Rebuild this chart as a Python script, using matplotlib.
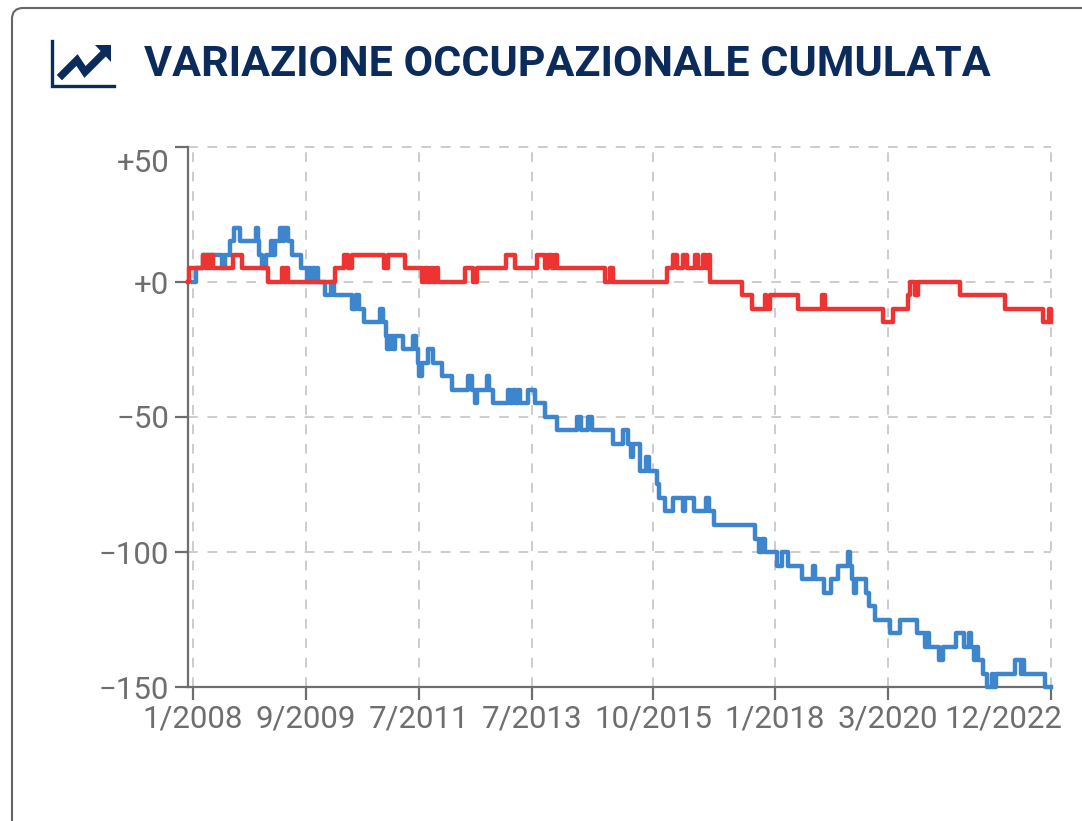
# Cumulative employment change, blue and red step lines on a card with title and icon
import matplotlib
matplotlib.use("Agg")
import matplotlib.pyplot as plt
from matplotlib.patches import FancyBboxPatch, Polygon
from matplotlib.transforms import ScaledTranslation

plt.rcParams["font.family"] = ["Roboto", "DejaVu Sans"]

# Title and axis labels
title = "VARIAZIONE OCCUPAZIONALE CUMULATA"
tick_pos = [0, 113, 226, 339, 460, 582, 695, 858]
tick_labels = ["1/2008", "9/2009", "7/2011", "7/2013", "10/2015", "1/2018", "3/2020", "12/2022"]
y_ticks = [50, 0, -50, -100, -150]
y_labels = ["+50", "+0", "\u221250", "\u2212100", "\u2212150"]

# Series, each point is where the step changes
blue_x = [0, 3, 10, 29, 32, 37, 41, 47, 63, 65, 66, 69, 73, 78, 80, 82, 87, 90, 91, 95,
          99, 108, 114, 116, 118, 120, 122, 124, 125, 132, 138, 141, 159, 163, 166, 171,
          187, 190, 193, 194, 197, 200, 202, 210, 220, 223, 225, 226, 229, 235, 240, 249,
          259, 275, 279, 282, 284, 294, 296, 300, 315, 317, 320, 322, 325, 327, 335, 342,
          352, 364, 384, 388, 395, 399, 420, 430, 435, 438, 440, 447, 453, 456, 464, 466,
          472, 480, 490, 492, 501, 513, 516, 521, 562, 566, 569, 572, 584, 589, 595, 609,
          620, 622, 631, 638, 645, 655, 657, 659, 661, 663, 673, 676, 682, 697, 707, 724,
          732, 734, 736, 746, 750, 763, 771, 776, 778, 781, 783, 785, 790, 794, 799, 800,
          803, 822, 828, 829, 831, 852, 858]
blue_y = [0, 5, 10, 5, 10, 15, 20, 15, 20, 15, 10, 5, 10, 15, 10, 15, 20, 15, 20, 15,
          10, 5, 0, 5, 0, 5, 0, 5, 0, -5, 0, -5, -10, -5, -10, -15,
          -10, -15, -20, -25, -20, -25, -20, -25, -20, -25, -30, -35, -30, -25, -30, -35,
          -40, -35, -40, -45, -40, -35, -40, -45, -40, -45, -40, -45, -40, -45, -40, -45,
          -50, -55, -50, -55, -50, -55, -60, -55, -60, -65, -60, -70, -65, -70, -75, -80,
          -85, -80, -85, -80, -85, -80, -85, -90, -95, -100, -95, -100, -105, -100, -105, -110,
          -105, -110, -115, -110, -105, -100, -105, -110, -115, -110, -115, -120, -125, -130, -125, -130,
          -135, -130, -135, -140, -135, -130, -135, -130, -135, -140, -135, -140, -145, -150, -145, -150,
          -145, -140, -145, -140, -145, -150, -150]

red_x = [-5, -4, 10, 12, 14, 16, 18, 20, 40, 49, 75, 89, 91, 93, 95, 97, 142, 151, 155,
         159, 191, 195, 212, 229, 232, 235, 238, 240, 243, 245, 272, 280, 284, 313, 322,
         344, 352, 355, 359, 362, 364, 412, 417, 420, 474, 480, 484, 490, 494, 502, 505,
         510, 513, 515, 517, 549, 559, 572, 573, 577, 580, 605, 629, 632, 690, 700, 715,
         717, 722, 725, 767, 812, 850, 856, 858]
red_y = [0, 5, 10, 5, 10, 5, 10, 5, 10, 5, 0, 5, 0, 5, 0, 0, 5, 10, 5,
         10, 5, 10, 5, 0, 5, 0, 5, 0, 5, 0, 5, 0, 5, 10, 5,
         10, 5, 10, 5, 10, 5, 0, 5, 0, 5, 10, 5, 10, 5, 10, 5,
         10, 5, 10, 0, -5, -10, -5, -10, -5, -5, -10, -5, -10, -15, -10, -5,
         0, -5, 0, -5, -10, -15, -10, -15]

W, H = 1082, 821
GREY = "#6e6e6e"
NAVY = "#0a2b5c"

fig = plt.figure(figsize=(W / 100, H / 100), dpi=100)

# Card, icon and title live on a pixel-sized layer behind the chart
bg = fig.add_axes([0, 0, 1, 1])
bg.set_xlim(0, W)
bg.set_ylim(H, 0)
bg.set_axis_off()
bg.add_patch(FancyBboxPatch((12, 8), 1300, 1100, boxstyle="round,pad=0,rounding_size=11",
                            fc="white", ec="#666666", lw=1.5))
bg.plot([51.5, 51.5, 114], [41, 86, 86], color=NAVY, lw=2.4, solid_joinstyle="miter")
bg.plot([62, 77, 85, 102], [75, 60, 72, 55], color=NAVY, lw=5.4, solid_joinstyle="miter")
bg.add_patch(Polygon([(95, 45), (110.5, 45), (110.5, 62)], fc=NAVY, ec="none"))
bg.text(144, 64, title, color=NAVY, fontsize=31, fontweight="bold", va="center", ha="left")

# Chart
ax = fig.add_axes([188 / W, (H - 687) / H, 863 / W, 540 / H])
ax.patch.set_alpha(0)
ax.set_xlim(-5, 858)
ax.set_ylim(-150, 50)

ax.step(blue_x, blue_y, where="post", color="#3d85cc", lw=3.2, clip_on=False, zorder=3)
ax.step(red_x, red_y, where="post", color="#ee3333", lw=3.2, clip_on=False, zorder=4)

ax.set_xticks(tick_pos)
ax.set_xticklabels(tick_labels)
ax.set_yticks(y_ticks)
ax.set_yticklabels(y_labels)
ax.grid(True, color="#cccccc", lw=1.4, dashes=(5, 5))
ax.set_axisbelow(True)
for g in ax.get_xgridlines() + ax.get_ygridlines():
    g.set_clip_on(False)

ax.tick_params(axis="both", length=9.5, width=1.6, color=GREY, labelcolor=GREY, labelsize=22.5)
ax.tick_params(axis="x", pad=3)
ax.tick_params(axis="y", pad=4)
for side in ["top", "right"]:
    ax.spines[side].set_visible(False)
for side in ["left", "bottom"]:
    ax.spines[side].set_color(GREY)
    ax.spines[side].set_linewidth(1.6)

# Last x label is pushed back inside the card, top y label sits below its tick
last = ax.get_xticklabels()[-1]
last.set_ha("right")
last.set_transform(last.get_transform() + ScaledTranslation(11 / 100, 0, fig.dpi_scale_trans))
top = ax.get_yticklabels()[0]
top.set_transform(top.get_transform() + ScaledTranslation(0, -13 / 100, fig.dpi_scale_trans))

fig.savefig("out.png", dpi=100)
